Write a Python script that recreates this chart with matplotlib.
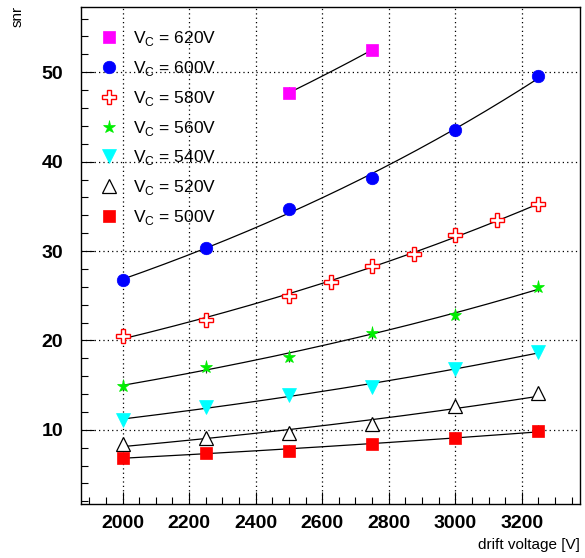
import matplotlib
matplotlib.use('Agg')
import matplotlib.pyplot as plt
from matplotlib.ticker import MultipleLocator
import numpy as np

plt.rcParams['font.family'] = ['Liberation Sans', 'DejaVu Sans']

# Data (snr vs drift voltage, one series per V_C)
vc_labels = ['620V', '600V', '580V', '560V', '540V', '520V', '500V']

drift_620 = [2500, 2750]
snr_620 = [47.7, 52.5]

drift_600 = [2000, 2250, 2500, 2750, 3000, 3250]
snr_600 = [26.8, 30.3, 34.7, 38.2, 43.5, 49.6]

drift_580 = [2000, 2250, 2500, 2625, 2750, 2875, 3000, 3125, 3250]
snr_580 = [20.5, 22.3, 25.0, 26.5, 28.3, 29.7, 31.8, 33.5, 35.3]

drift_560 = [2000, 2250, 2500, 2750, 3000, 3250]
snr_560 = [14.95, 17.0, 18.2, 20.8, 22.85, 26.0]

drift_540 = [2000, 2250, 2500, 2750, 3000, 3250]
snr_540 = [11.1, 12.6, 13.9, 14.8, 16.8, 18.75]

drift_520 = [2000, 2250, 2500, 2750, 3000, 3250]
snr_520 = [8.4, 9.1, 9.6, 10.6, 12.7, 14.1]

drift_500 = [2000, 2250, 2500, 2750, 3000, 3250]
snr_500 = [6.9, 7.4, 7.65, 8.4, 9.1, 9.9]

snr_err = 0.6

series = [
    (drift_620, snr_620, dict(marker='s', color='#ff00ff', mfc='#ff00ff', ms=8.5)),
    (drift_600, snr_600, dict(marker='o', color='#0000ff', mfc='#0000ff', ms=9)),
    (drift_580, snr_580, dict(marker='P', color='#ff0000', mfc='white', ms=9.5, mew=1.0)),
    (drift_560, snr_560, dict(marker='*', color='#00ee00', mfc='#00ee00', ms=9.5)),
    (drift_540, snr_540, dict(marker='v', color='#00ffff', mfc='#00ffff', ms=9.5)),
    (drift_520, snr_520, dict(marker='^', color='black', mfc='white', ms=9.5, mew=0.9)),
    (drift_500, snr_500, dict(marker='s', color='#ff0000', mfc='#ff0000', ms=8.5)),
]

fig = plt.figure(figsize=(5.85, 5.58), dpi=100)
ax = fig.add_axes([81/585, 1-504/558, 499/585, 497/558])

handles = []
for (x, y, style), lab in zip(series, vc_labels):
    x = np.array(x, dtype=float)
    y = np.array(y, dtype=float)
    # exponential fit drawn over the measured range
    p = np.polyfit(x, np.log(y), 1)
    xf = np.linspace(x.min(), x.max(), 200)
    ax.plot(xf, np.exp(np.polyval(p, xf)), color='black', lw=0.9, zorder=2)
    ax.errorbar(x, y, yerr=snr_err, fmt='none', ecolor='#333333', elinewidth=0.8, zorder=3)
    h, = ax.plot(x, y, linestyle='none', markeredgecolor=style['color'], zorder=4,
                 marker=style['marker'], markerfacecolor=style['mfc'],
                 markersize=style['ms'], markeredgewidth=style.get('mew', 0.5),
                 label=r'V$_{\mathregular{C}}$ = ' + lab)
    handles.append(h)

ax.set_xlim(1875, 3375)
ax.set_ylim(1.7, 57.3)
ax.xaxis.set_major_locator(MultipleLocator(200))
ax.xaxis.set_minor_locator(MultipleLocator(50))
ax.yaxis.set_major_locator(MultipleLocator(10))
ax.yaxis.set_minor_locator(MultipleLocator(2))
ax.tick_params(which='both', direction='in', top=False, right=False, width=0.8)
ax.tick_params(which='major', length=9)
ax.tick_params(which='minor', length=5)
ax.tick_params(axis='x', pad=8, labelsize=14)
ax.tick_params(axis='y', pad=13, labelsize=14)
for t in ax.get_xticklabels() + ax.get_yticklabels():
    t.set_fontweight('bold')
ax.grid(True, which='major', color='black', linestyle=(0, (1, 2.5)), linewidth=0.9)
for s in ax.spines.values():
    s.set_linewidth(1.0)

ax.legend(handles=handles, loc='upper left', bbox_to_anchor=(0.038, 0.955),
          frameon=False, fontsize=12.5, handlelength=1.0, handletextpad=0.9,
          labelspacing=0.62, borderpad=0, borderaxespad=0, numpoints=1)

fig.text(580/585, 1-545/558, 'drift voltage [V]', ha='right', va='center', fontsize=11)
fig.text(18/585, 1-6/558, 'snr', ha='center', va='top', rotation=90, fontsize=11)

fig.savefig('out.png', dpi=100)
